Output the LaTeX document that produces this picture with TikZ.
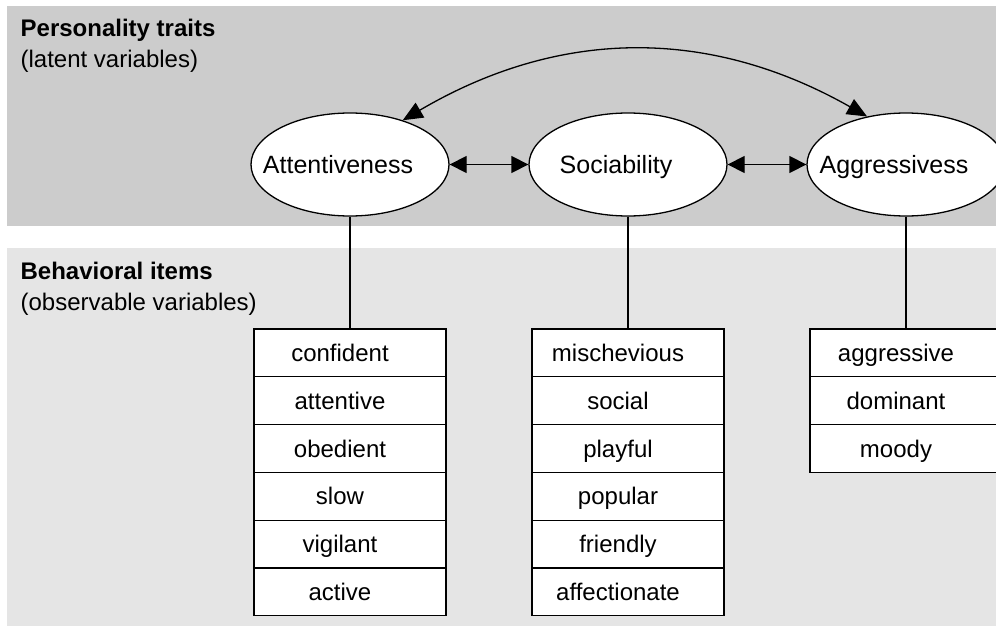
\documentclass[tikz,border=0pt]{standalone}
\usepackage{fontspec}
\setmainfont{Liberation Sans}
\usetikzlibrary{positioning}
\usetikzlibrary{shapes.geometric}
\usetikzlibrary{arrows.meta}
\usepackage{xcolor}
\definecolor{traitband}{HTML}{CCCCCC}
\definecolor{itemband}{HTML}{E5E5E5}

\begin{document}
\begin{tikzpicture}[x=1pt, y=-1pt, line width=1.3pt, node distance=47.8pt,
	trait/.style = {draw, ellipse, fill=white, minimum width=198pt, minimum height=103pt, inner sep=0pt},
	item/.style = {draw, rectangle, fill=white, minimum width=192pt, minimum height=47.8pt, inner sep=0pt},
	itemlbl/.style = {font=\fontsize{24}{28}\selectfont, text height=17pt, text depth=0pt, inner sep=0pt, xshift=-10pt},
	traitlbl/.style = {itemlbl, font=\fontsize{25}{29}\selectfont, xshift=-2pt},
	head/.style = {font=\fontsize{24}{28}\selectfont, anchor=base west, inner sep=0pt},
	both/.style = {{Triangle[length=17pt,width=17pt]}-{Triangle[length=17pt,width=17pt]}},
	bigboth/.style = {{Triangle[length=20pt,width=17pt]}-{Triangle[length=20pt,width=17pt]}}]
		\useasboundingbox (0,0) rectangle (996,626);
		\clip (0,0) rectangle (996,626);
		\fill[white] (0,0) rectangle (996,626);
		\fill[traitband] (7,6) rectangle (996,226);
		\fill[itemband] (7,248) rectangle (996,626);
		% headings
		\node[head] (h1) at (20,37) {\bfseries Personality traits};
		\node[head] (h2) at (20,67) {(latent variables)};
		\node[head] (h3) at (20,279) {\bfseries Behavioral items};
		\node[head] (h4) at (20,310) {(observable variables)};
		% latent variables
		\node[trait, label={[traitlbl]center:Attentiveness}] (att) at (350,164.5) {};
		\node[trait, label={[traitlbl]center:Sociability}] (soc) at (628,164.5) {};
		\node[trait, label={[traitlbl]center:Aggressivess}] (agg) at (906,164.5) {};
		% items
		\node[item, label={[itemlbl]center:confident}] (a1) at (350,352.9) {};
		\node[item, label={[itemlbl]center:attentive}] (a2) [below of=a1] {};
		\node[item, label={[itemlbl]center:obedient}] (a3) [below of=a2] {};
		\node[item, label={[itemlbl]center:slow}] (a4) [below of=a3] {};
		\node[item, label={[itemlbl]center:vigilant}] (a5) [below of=a4] {};
		\node[item, label={[itemlbl]center:active}] (a6) [below of=a5] {};
		\node[item, label={[itemlbl]center:mischevious}] (s1) at (628,352.9) {};
		\node[item, label={[itemlbl]center:social}] (s2) [below of=s1] {};
		\node[item, label={[itemlbl]center:playful}] (s3) [below of=s2] {};
		\node[item, label={[itemlbl]center:popular}] (s4) [below of=s3] {};
		\node[item, label={[itemlbl]center:friendly}] (s5) [below of=s4] {};
		\node[item, label={[itemlbl]center:affectionate}] (s6) [below of=s5] {};
		\node[item, label={[itemlbl]center:aggressive}] (g1) at (906,352.9) {};
		\node[item, label={[itemlbl]center:dominant}] (g2) [below of=g1] {};
		\node[item, label={[itemlbl]center:moody}] (g3) [below of=g2] {};
		% connections
		\draw[-] (att) -- (a1);
		\draw[-] (soc) -- (s1);
		\draw[-] (agg) -- (g1);
		\draw[both] (att) -- (soc);
		\draw[both] (soc) -- (agg);
		\draw[bigboth] (att.40) to[bend left=30] (agg.129);
	\end{tikzpicture}
\end{document}
